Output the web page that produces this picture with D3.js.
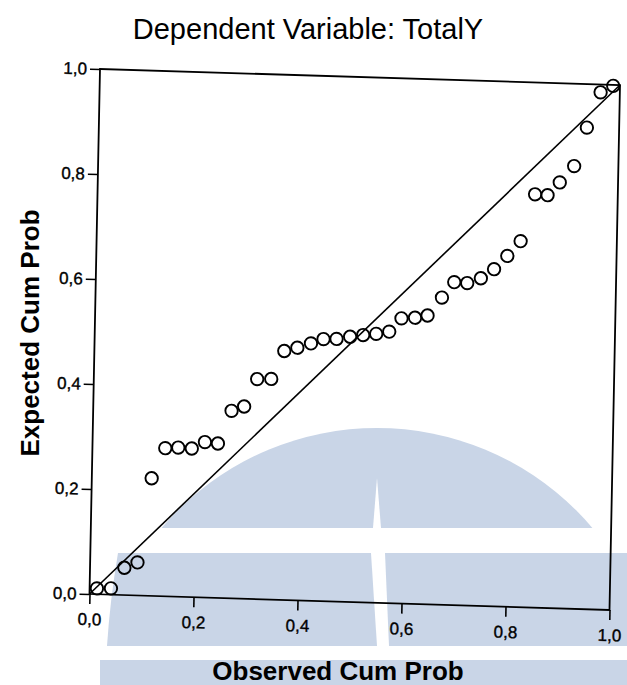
<!DOCTYPE html>
<html>
<head>
<meta charset="utf-8">
<script src="https://cdn.jsdelivr.net/npm/d3@7"></script>
<style>
  body { margin: 0; background: #fff; }
  text { font-family: "Liberation Sans", Arial, sans-serif; fill: #000; }
  .axis line { stroke: #000; stroke-width: 1.6; }
  .axis text { font-size: 17px; stroke: #000; stroke-width: 0.35; }
</style>
</head>
<body>
<div id="chart"></div>
<script>
// observed / expected cumulative probabilities
var observed = [0.014, 0.041, 0.066, 0.091, 0.115, 0.140, 0.165, 0.191, 0.216, 0.241,
                0.266, 0.290, 0.314, 0.341, 0.365, 0.390, 0.416, 0.440, 0.465, 0.491,
                0.516, 0.541, 0.566, 0.589, 0.615, 0.639, 0.666, 0.689, 0.714, 0.740,
                0.765, 0.790, 0.815, 0.841, 0.865, 0.888, 0.915, 0.938, 0.963, 0.987];
var expected = [0.011, 0.012, 0.052, 0.063, 0.224, 0.282, 0.284, 0.283, 0.296, 0.294,
                0.357, 0.366, 0.419, 0.420, 0.474, 0.481, 0.490, 0.499, 0.500, 0.505,
                0.509, 0.512, 0.517, 0.543, 0.545, 0.550, 0.585, 0.615, 0.614, 0.624,
                0.642, 0.668, 0.697, 0.787, 0.786, 0.811, 0.843, 0.917, 0.985, 0.998];
var tickValues = [0, 0.2, 0.4, 0.6, 0.8, 1.0];

var width = 627, height = 685;
var plotW = 520, plotH = 525;

var svg = d3.select("#chart").append("svg")
    .attr("width", width)
    .attr("height", height);

// watermark behind the chart (light blue logo on the scanned page)
var wm = "#c9d5e7";
svg.append("defs").append("clipPath").attr("id", "domeClip")
    .append("rect").attr("x", 0).attr("y", 0).attr("width", width).attr("height", 528);

svg.append("circle")
    .attr("cx", 377).attr("cy", 710).attr("r", 282)
    .attr("fill", wm)
    .attr("clip-path", "url(#domeClip)");
svg.append("path")
    .attr("d", "M118,553 L627,553 L627,646 L107,646 Q110,600 118,553 Z")
    .attr("fill", wm);
svg.append("rect").attr("x", 100).attr("y", 660).attr("width", 527).attr("height", 25).attr("fill", wm);
// white cut-outs of the logo
svg.append("polygon").attr("points", "371,553 385,553 389,646 377,646").attr("fill", "#fff");
svg.append("polygon").attr("points", "377,478 373,528 381,528").attr("fill", "#fff");

// the scan is slightly skewed, so the plot gets a small affine transform
var chartGroup = svg.append("g")
    .attr("transform", "matrix(1 0.0308 -0.02 1 100 69)");

var xScale = d3.scaleLinear().domain([0, 1]).range([0, plotW]);
var yScale = d3.scaleLinear().domain([0, 1]).range([plotH, 0]);

var commaFmt = d3.formatLocale({decimal: ",", thousands: ".", grouping: [3], currency: ["", ""]}).format(".1f");

var bottomAxis = d3.axisBottom(xScale).tickValues(tickValues).tickFormat(commaFmt)
    .tickSize(10).tickPadding(9).tickSizeOuter(0);
var leftAxis = d3.axisLeft(yScale).tickValues(tickValues).tickFormat(commaFmt)
    .tickSize(10).tickPadding(3).tickSizeOuter(0);

chartGroup.append("g")
    .classed("axis", true)
    .attr("transform", "translate(0, " + plotH + ")")
    .call(bottomAxis)
    .select(".domain").remove();

chartGroup.append("g")
    .classed("axis", true)
    .call(leftAxis)
    .select(".domain").remove();

chartGroup.selectAll(".axis text").attr("fill", "#000");

// frame
chartGroup.append("rect")
    .attr("x", 0).attr("y", 0)
    .attr("width", plotW).attr("height", plotH)
    .attr("fill", "none")
    .attr("stroke", "#000")
    .attr("stroke-width", 1.8);

// reference diagonal
chartGroup.append("line")
    .attr("x1", xScale(0)).attr("y1", yScale(0))
    .attr("x2", xScale(1)).attr("y2", yScale(1))
    .attr("stroke", "#000")
    .attr("stroke-width", 1.6);

var points = observed.map(function(d, i) { return {obs: d, exp: expected[i]}; });

chartGroup.selectAll("circle.pt")
    .data(points)
    .enter()
    .append("circle")
    .attr("class", "pt")
    .attr("cx", d => xScale(d.obs))
    .attr("cy", d => yScale(d.exp))
    .attr("r", 6.2)
    .attr("fill", "none")
    .attr("stroke", "#000")
    .attr("stroke-width", 1.9);

// titles
svg.append("text")
    .attr("x", 308).attr("y", 39)
    .attr("text-anchor", "middle")
    .style("font-size", "29px")
    .text("Dependent Variable: TotalY");

svg.append("text")
    .attr("x", 338).attr("y", 680)
    .attr("text-anchor", "middle")
    .style("font-size", "26px")
    .style("font-weight", "bold")
    .text("Observed Cum Prob");

svg.append("text")
    .attr("transform", "translate(39, 333) rotate(-90)")
    .attr("text-anchor", "middle")
    .style("font-size", "26px")
    .style("font-weight", "bold")
    .text("Expected Cum Prob");
</script>
</body>
</html>
